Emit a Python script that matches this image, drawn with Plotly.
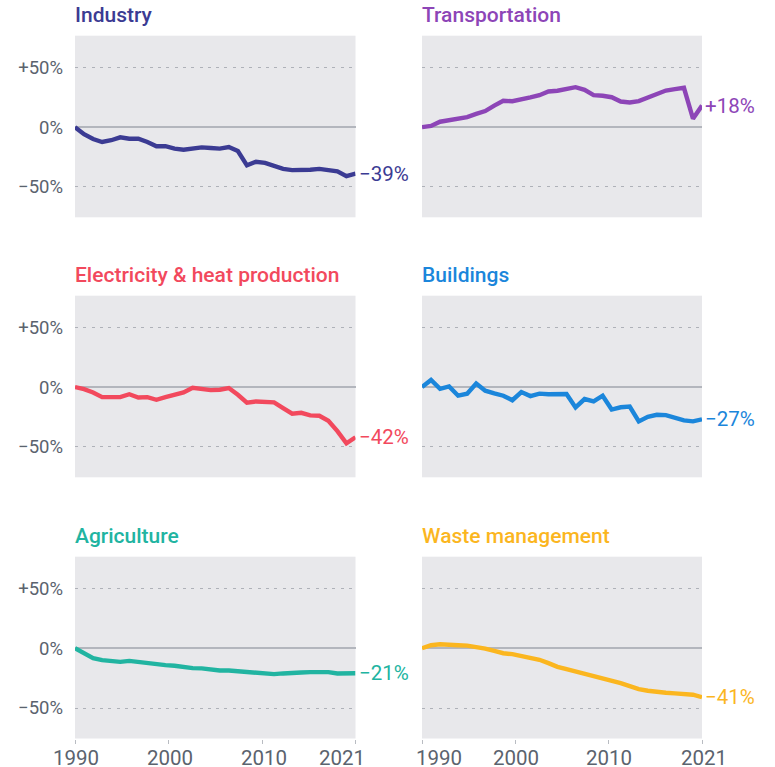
import numpy as np
import plotly.graph_objects as go

# Emissions change since 1990, by sector (percent)
years = list(range(1990, 2022))

industry = [0, -6, -10, -12.5, -11, -8.6, -9.7, -9.7, -12.5, -16, -16, -18, -19, -18, -17,
            -17.5, -18, -16.7, -20, -32, -29, -30, -32.6, -35, -36, -36, -35.7, -35, -35.7,
            -37, -41, -39]
transportation = [0, 1, 4.5, 5.6, 6.4, 8.4, 11, 13.4, 18, 22, 21.7, 23.7, 24.8, 26.7, 29.8,
                  30.4, 31.8, 33.4, 31.2, 26.7, 26.2, 25, 21.4, 20.6, 21.7, 24.5, 27.9, 30.6,
                  31.8, 32.9, 7, 18]
electricity = [0, -1.7, -4.5, -8.4, -8.4, -8.4, -6, -8.7, -8.4, -10.6, -8.4, -6, -4.5, -0.6,
               -1.4, -2.5, -2.2, -0.8, -6.4, -13, -12, -12.6, -12.8, -17.6, -22.3, -21.5,
               -23.7, -24, -28.2, -36.9, -47, -42]
buildings = [0, 6, -1.4, 0.6, -7.2, -5.5, 3, -3, -5.2, -7.2, -11, -4.1, -7.5, -5.5, -6, -6,
             -5.8, -17, -10, -12, -7.2, -18.8, -16.9, -16.3, -28.7, -24.9, -23.2, -23.5, -26,
             -27.9, -28.7, -27]
agriculture = [0, -4.4, -8.3, -10, -11.1, -11.4, -10.6, -11.7, -12.5, -13, -14.2, -14.7, -16.1,
               -16.7, -16.9, -17.8, -18.6, -18.6, -19.2, -20.3, -20.8, -21.1, -21.7, -21.1,
               -20.3, -20.3, -20, -19.7, -20, -21.1, -20.6, -21]
waste = [0, 2.5, 3.3, 3.3, 2.5, 2.2, 1.4, -0.3, -2.2, -4.2, -5, -6.4, -8, -9.7, -12.5, -15.6,
         -17.5, -19.4, -21.9, -23.3, -25, -27.2, -29.2, -31.7, -34.2, -35.6, -36.7, -37.2,
         -37.8, -38.1, -38.9, -41]

sectors = ["Industry", "Transportation", "Electricity & heat production", "Buildings",
           "Agriculture", "Waste management"]
series = [industry, transportation, electricity, buildings, agriculture, waste]
colors = ["#3b3b93", "#8d45b7", "#f2495d", "#1b86db", "#21b4a1", "#fbb61f"]

y_ticks = [-50, 0, 50]
y_tick_text = ["\u221250%", "0%", "+50%"]
x_tick_labels = ["1990", "2000", "2010", "2021"]

W, H = 775, 767
FONT = "Roboto"
GREY_TEXT = "#5b636e"

# year labels sit at evenly spaced stops along each panel's time axis
x_tick_pos = list(np.linspace(years[0], years[-1], len(x_tick_labels)))

# panel geometry in pixels: (left, right) per column, (top, bottom) per row
cols_px = [(75, 355.5), (422, 702)]
rows_px = [(35.7, 217.3), (295.7, 477.3), (556.7, 738.5)]

# horizontal nudges (px) for year labels where the two bottom panels meet
label_nudge = {0: [1, 1.5, 1.5, -14], 1: [17, 0.5, 0.5, 1.5]}

fig = go.Figure()

for i, (name, vals, color) in enumerate(zip(sectors, series, colors)):
    r, c = divmod(i, 2)
    n = i + 1
    xa = "x" if n == 1 else f"x{n}"
    ya = "y" if n == 1 else f"y{n}"
    fig.add_trace(go.Scatter(
        x=years, y=vals, mode="lines", xaxis=xa, yaxis=ya,
        line=dict(color=color, width=4.4, shape="linear"),
        hoverinfo="skip", showlegend=False,
    ))

    x0, x1 = cols_px[c]
    t, b = rows_px[r]
    xdom = [x0 / W, x1 / W]
    ydom = [1 - b / H, 1 - t / H]
    bottom = r == 2

    fig.layout[f"xaxis{'' if n == 1 else n}"] = dict(
        domain=xdom, anchor=ya, range=[years[0], years[-1]], showgrid=False, zeroline=False,
        tickvals=x_tick_pos, showticklabels=False, ticks="outside" if bottom else "",
        ticklen=4, tickwidth=1, tickcolor="#b9bcc2",
        showline=False, fixedrange=True, automargin=False,
    )
    fig.layout[f"yaxis{'' if n == 1 else n}"] = dict(
        domain=ydom, anchor=xa, range=[-75.5, 76.5],
        tickvals=y_ticks, ticktext=y_tick_text, showticklabels=(c == 0),
        ticks="", ticklabelstandoff=11,
        tickfont=dict(family=FONT, size=18.5, color=GREY_TEXT),
        showgrid=True, gridcolor="#aeb1b8", gridwidth=1.3, griddash="3px,5.3px",
        zeroline=True, zerolinecolor="#b3b6bd", zerolinewidth=2,
        showline=False, fixedrange=True, automargin=False,
    )

    # year labels under the bottom row
    if bottom:
        for pos, txt, dx in zip(x_tick_pos, x_tick_labels, label_nudge[c]):
            fig.add_annotation(
                xref=xa, yref="paper", x=pos, y=1 - 744 / H,
                xanchor="center", yanchor="top", xshift=dx, showarrow=False,
                text=txt, font=dict(family=FONT, size=20.5, color=GREY_TEXT),
            )

    # sector title above each panel
    fig.add_annotation(
        xref="paper", yref="paper", x=x0 / W, y=1 - (t - 20.7) / H,
        xanchor="left", yanchor="middle", showarrow=False, xshift=-2,
        text=name, font=dict(family=FONT, size=21, color=color, weight=500),
    )
    # change in 2021 at the line's end
    last = vals[-1]
    label = ("+" if last > 0 else "\u2212") + f"{abs(round(last))}%"
    fig.add_annotation(
        xref=xa, yref=ya, x=years[-1], y=last, xanchor="left", yanchor="middle",
        xshift=1, showarrow=False, text=label,
        font=dict(family=FONT, size=20.5, color=color),
    )

fig.update_layout(
    width=W, height=H, autosize=False,
    margin=dict(l=0, r=0, t=0, b=0),
    paper_bgcolor="white", plot_bgcolor="#e8e8eb",
)

fig.write_html("out.html")
